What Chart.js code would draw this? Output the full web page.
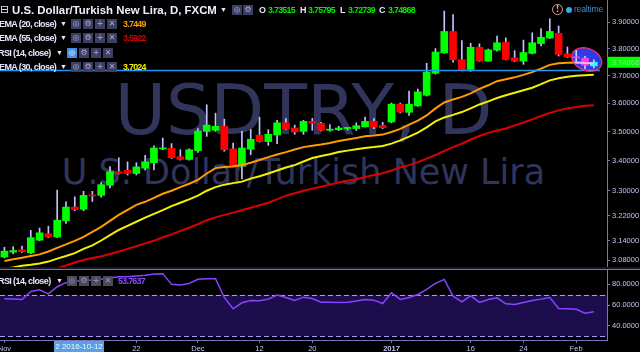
<!DOCTYPE html>
<html>
<head>
<meta charset="utf-8">
<script src="https://cdn.jsdelivr.net/npm/chart.js@4.4.1/dist/chart.umd.min.js"></script>
<style>
  html, body { margin: 0; padding: 0; background: #000; }
  #wrap { position: relative; width: 640px; height: 352px; overflow: hidden; background: #000; }
  canvas { position: absolute; left: 0; z-index: 1; }
  #main { top: 0; }
  #rsi { top: 270px; }
  .wm { position: absolute; left: 0; width: 607px; text-align: center; color: #31355b; font-family: 'DejaVu Sans'; white-space: nowrap; line-height: 1; z-index: 0; }
  .ov { position: absolute; z-index: 2; white-space: nowrap; font-family: 'Liberation Sans'; }
  .t { font-weight: bold; font-size: 9px; line-height: 12px; letter-spacing: -0.6px; color: #e6e6ff; }
  .v { font-weight: bold; font-size: 8.8px; line-height: 12px; letter-spacing: -0.7px; color: #00ee00; }
  .arr { font-size: 7px; line-height: 12px; color: #e6e6ff; }
  .ic { width: 10px; height: 10px; background: #3c3f62; color: #a9a9dc; font: 8px 'DejaVu Sans'; line-height: 10px; text-align: center; }
  .sep { position: absolute; z-index: 2; }
</style>
</head>
<body>
<div id="wrap">
  <div class="wm" style="top:75px;font-size:70px;">USDTRY, D</div>
  <div class="wm" style="top:155px;font-size:35px;">U.S. Dollar/Turkish New Lira</div>

  <canvas id="main" width="640" height="270"></canvas>
  <canvas id="rsi" width="640" height="82"></canvas>

  <div class="sep" style="left:0;top:267px;width:640px;height:2px;background:#16162a;"></div>
  <div class="sep" style="left:0;top:269px;width:640px;height:1px;background:#7474bc;"></div>

  <!-- header row 1 -->
  <div class="ov" style="left:0;top:4px;font:11px 'DejaVu Sans';line-height:11px;color:#e6e6ff;">⊟</div>
  <div class="ov" style="left:12px;top:3px;font-weight:bold;font-size:11.4px;line-height:14px;color:#f0f0ff;">U.S. Dollar/Turkish New Lira, D, FXCM</div>
  <div class="ov arr" style="left:220px;top:4px;">▼</div>
  <div class="ov ic" style="left:232px;top:5px;">◎</div>
  <div class="ov ic" style="left:243px;top:5px;">⚙</div>
  <div class="ov t" style="left:259px;top:4px;">O</div>
  <div class="ov v" style="left:268px;top:4px;">3.73515</div>
  <div class="ov t" style="left:300px;top:4px;">H</div>
  <div class="ov v" style="left:308px;top:4px;">3.75795</div>
  <div class="ov t" style="left:340px;top:4px;">L</div>
  <div class="ov v" style="left:348px;top:4px;">3.72739</div>
  <div class="ov t" style="left:379px;top:4px;">C</div>
  <div class="ov v" style="left:388px;top:4px;">3.74868</div>

  <div class="ov" style="left:552px;top:4px;width:9px;height:9px;border:1.2px solid #e29a9a;border-radius:50%;color:#e29a9a;font:bold 8px 'DejaVu Sans';line-height:9px;text-align:center;">!</div>
  <div class="ov" style="left:566px;top:6.5px;width:6px;height:6px;border-radius:50%;background:#3aa6ee;"></div>
  <div class="ov" style="left:574px;top:3px;font-size:8.6px;line-height:12px;letter-spacing:-0.2px;color:#3b8ec9;">realtime</div>

  <!-- indicator rows -->
  <div class="ov t" style="left:-1px;top:18px;">EMA (20, close)</div>
  <div class="ov arr" style="left:60px;top:18px;">▼</div>
  <div class="ov ic" style="left:71px;top:19px;">◎</div>
  <div class="ov ic" style="left:83px;top:19px;">⚙</div>
  <div class="ov ic" style="left:95px;top:19px;">+</div>
  <div class="ov ic" style="left:107px;top:19px;">✕</div>
  <div class="ov v" style="left:123px;top:18px;color:#ff9c00;">3.7449</div>

  <div class="ov t" style="left:-1px;top:32px;">EMA (55, close)</div>
  <div class="ov arr" style="left:60px;top:32px;">▼</div>
  <div class="ov ic" style="left:71px;top:33px;">◎</div>
  <div class="ov ic" style="left:83px;top:33px;">⚙</div>
  <div class="ov ic" style="left:95px;top:33px;">+</div>
  <div class="ov ic" style="left:107px;top:33px;">✕</div>
  <div class="ov v" style="left:123px;top:32px;color:#d20000;">3.5922</div>

  <div class="ov t" style="left:-2px;top:47px;">RSI (14, close)</div>
  <div class="ov arr" style="left:56px;top:47px;">▼</div>
  <div class="ov ic" style="left:67px;top:48px;background:#3f8fe2;color:#e8f2ff;">◎</div>
  <div class="ov ic" style="left:79px;top:48px;">⚙</div>
  <div class="ov ic" style="left:91px;top:48px;">+</div>
  <div class="ov ic" style="left:103px;top:48px;">✕</div>

  <div class="ov t" style="left:-1px;top:61px;">EMA (30, close)</div>
  <div class="ov arr" style="left:60px;top:61px;">▼</div>
  <div class="ov ic" style="left:71px;top:62px;">◎</div>
  <div class="ov ic" style="left:83px;top:62px;">⚙</div>
  <div class="ov ic" style="left:95px;top:62px;">+</div>
  <div class="ov ic" style="left:107px;top:62px;">✕</div>
  <div class="ov v" style="left:123px;top:61px;color:#f2f200;">3.7024</div>

  <!-- RSI pane header -->
  <div class="ov t" style="left:-2px;top:275px;">RSI (14, close)</div>
  <div class="ov arr" style="left:56px;top:275px;">▼</div>
  <div class="ov ic" style="left:67px;top:276px;background:#4a4a5c;color:#9a9ab0;">◎</div>
  <div class="ov ic" style="left:79px;top:276px;background:#4a4a5c;color:#9a9ab0;">⚙</div>
  <div class="ov ic" style="left:91px;top:276px;background:#4a4a5c;color:#9a9ab0;">+</div>
  <div class="ov ic" style="left:103px;top:276px;background:#4a4a5c;color:#9a9ab0;">✕</div>
  <div class="ov v" style="left:118px;top:275px;color:#8a4dff;">53.7637</div>

  <div class="ov" style="left:54px;top:341px;width:50px;height:11px;background:#5aa0e2;color:#eef5ff;font-size:8px;line-height:11px;text-align:center;">2 2016-10-12</div>
</div>

<script>
// USDTRY daily, FXCM
const dates = [
  '2016-11-01', '2016-11-02', '2016-11-03', '2016-11-04',
  '2016-11-07', '2016-11-08', '2016-11-09', '2016-11-10', '2016-11-11',
  '2016-11-14', '2016-11-15', '2016-11-16', '2016-11-17', '2016-11-18',
  '2016-11-21', '2016-11-22', '2016-11-23', '2016-11-24', '2016-11-25',
  '2016-11-28', '2016-11-29', '2016-11-30',
  '2016-12-01', '2016-12-02',
  '2016-12-05', '2016-12-06', '2016-12-07', '2016-12-08', '2016-12-09',
  '2016-12-12', '2016-12-13', '2016-12-14', '2016-12-15', '2016-12-16',
  '2016-12-19', '2016-12-20', '2016-12-21', '2016-12-22', '2016-12-23',
  '2016-12-26', '2016-12-27', '2016-12-28', '2016-12-29', '2016-12-30',
  '2017-01-03', '2017-01-04', '2017-01-05', '2017-01-06',
  '2017-01-09', '2017-01-10', '2017-01-11', '2017-01-12', '2017-01-13',
  '2017-01-16', '2017-01-17', '2017-01-18', '2017-01-19', '2017-01-20',
  '2017-01-23', '2017-01-24', '2017-01-25', '2017-01-26', '2017-01-27',
  '2017-01-30', '2017-01-31',
  '2017-02-01', '2017-02-02', '2017-02-03'
];

const opens = [
  3.090, 3.105, 3.112, 3.103, 3.142, 3.162, 3.152, 3.203, 3.247, 3.240,
  3.286, 3.285, 3.318, 3.363, 3.368, 3.357, 3.375, 3.393, 3.440, 3.442,
  3.413, 3.404, 3.434, 3.500, 3.504, 3.518, 3.440, 3.382, 3.439, 3.487,
  3.465, 3.488, 3.530, 3.512, 3.500, 3.535, 3.528, 3.504, 3.506, 3.510,
  3.510, 3.516, 3.535, 3.521, 3.533, 3.596, 3.567, 3.590, 3.628, 3.708,
  3.784, 3.865, 3.758, 3.722, 3.805, 3.753, 3.794, 3.823, 3.765, 3.753,
  3.782, 3.819, 3.840, 3.858, 3.780, 3.768, 3.764, 3.73515
];
const highs = [
  3.120, 3.122, 3.124, 3.173, 3.180, 3.186, 3.302, 3.264, 3.280, 3.298,
  3.298, 3.327, 3.380, 3.410, 3.396, 3.393, 3.418, 3.450, 3.477, 3.458,
  3.437, 3.440, 3.510, 3.594, 3.564, 3.543, 3.460, 3.500, 3.507, 3.550,
  3.506, 3.539, 3.545, 3.522, 3.539, 3.546, 3.532, 3.524, 3.518, 3.514,
  3.530, 3.550, 3.545, 3.532, 3.600, 3.600, 3.643, 3.650, 3.745, 3.800,
  3.944, 3.930, 3.830, 3.820, 3.818, 3.798, 3.847, 3.841, 3.792, 3.832,
  3.860, 3.876, 3.914, 3.886, 3.806, 3.793, 3.771, 3.75795
];
const lows = [
  3.087, 3.100, 3.103, 3.100, 3.140, 3.150, 3.150, 3.195, 3.235, 3.235,
  3.265, 3.279, 3.309, 3.355, 3.352, 3.352, 3.369, 3.369, 3.437, 3.407,
  3.402, 3.402, 3.428, 3.483, 3.500, 3.432, 3.380, 3.339, 3.420, 3.463,
  3.452, 3.458, 3.507, 3.490, 3.490, 3.504, 3.502, 3.501, 3.503, 3.505,
  3.503, 3.516, 3.510, 3.510, 3.530, 3.565, 3.556, 3.588, 3.625, 3.705,
  3.782, 3.749, 3.717, 3.715, 3.752, 3.752, 3.790, 3.757, 3.751, 3.741,
  3.780, 3.810, 3.838, 3.772, 3.766, 3.752, 3.725, 3.72739
];
const closes = [
  3.108, 3.110, 3.106, 3.150, 3.165, 3.152, 3.205, 3.247, 3.239, 3.285,
  3.283, 3.320, 3.363, 3.357, 3.357, 3.379, 3.396, 3.443, 3.443, 3.410,
  3.404, 3.437, 3.501, 3.522, 3.518, 3.437, 3.384, 3.443, 3.473, 3.465,
  3.490, 3.530, 3.509, 3.498, 3.535, 3.528, 3.504, 3.508, 3.512, 3.514,
  3.520, 3.535, 3.516, 3.513, 3.596, 3.568, 3.596, 3.640, 3.712, 3.787,
  3.865, 3.758, 3.719, 3.805, 3.753, 3.795, 3.822, 3.759, 3.753, 3.785,
  3.822, 3.843, 3.865, 3.778, 3.768, 3.765, 3.738, 3.74868
];

const ema20 = [
  3.078, 3.083, 3.088, 3.093, 3.098, 3.107, 3.118, 3.129, 3.140, 3.152,
  3.168, 3.184, 3.203, 3.222, 3.238, 3.254, 3.264, 3.277, 3.290, 3.300,
  3.312, 3.323, 3.336, 3.357, 3.375, 3.379, 3.380, 3.385, 3.393, 3.402,
  3.412, 3.421, 3.429, 3.438, 3.446, 3.451, 3.455, 3.460, 3.467, 3.472,
  3.477, 3.483, 3.486, 3.489, 3.498, 3.509, 3.524, 3.538, 3.556, 3.581,
  3.602, 3.613, 3.622, 3.635, 3.651, 3.664, 3.679, 3.686, 3.693, 3.702,
  3.712, 3.725, 3.739, 3.745, 3.747, 3.748, 3.746, 3.7449
];
const ema30 = [
  3.055, 3.058, 3.063, 3.066, 3.070, 3.076, 3.085, 3.093, 3.102, 3.115,
  3.126, 3.141, 3.158, 3.174, 3.187, 3.200, 3.213, 3.225, 3.237, 3.250,
  3.261, 3.272, 3.284, 3.300, 3.312, 3.320, 3.325, 3.330, 3.340, 3.348,
  3.357, 3.367, 3.377, 3.385, 3.397, 3.409, 3.416, 3.422, 3.429, 3.434,
  3.439, 3.443, 3.446, 3.450, 3.458, 3.469, 3.482, 3.496, 3.514, 3.535,
  3.549, 3.558, 3.568, 3.581, 3.595, 3.606, 3.618, 3.628, 3.637, 3.646,
  3.655, 3.668, 3.682, 3.690, 3.695, 3.699, 3.701, 3.7024
];
const ema55 = [
  3.017, 3.023, 3.029, 3.035, 3.041, 3.047, 3.056, 3.064, 3.073, 3.081,
  3.087, 3.092, 3.099, 3.107, 3.115, 3.123, 3.132, 3.140, 3.151, 3.160,
  3.171, 3.181, 3.192, 3.205, 3.214, 3.222, 3.229, 3.237, 3.245, 3.253,
  3.261, 3.272, 3.284, 3.292, 3.300, 3.307, 3.313, 3.320, 3.327, 3.333,
  3.338, 3.345, 3.352, 3.358, 3.367, 3.377, 3.385, 3.395, 3.407, 3.419,
  3.433, 3.446, 3.458, 3.472, 3.484, 3.495, 3.503, 3.510, 3.521, 3.531,
  3.542, 3.554, 3.565, 3.574, 3.581, 3.586, 3.590, 3.5922
];
const rsi14 = [
  66.1, 65.8, 65.5, 73.2, 74.8, 70.9, 77.7, 81.6, 82.9, 83.5,
  84.2, 84.8, 86.1, 87.4, 87.4, 88.0, 88.7, 90.0, 90.3, 80.0,
  79.3, 80.9, 84.8, 85.4, 85.4, 67.4, 56.5, 62.3, 64.5, 64.2,
  65.8, 69.7, 67.4, 64.5, 67.7, 66.4, 62.9, 62.9, 62.6, 62.9,
  63.9, 65.5, 64.8, 61.6, 71.9, 65.5, 67.4, 70.3, 75.1, 80.9,
  84.8, 68.7, 63.2, 69.0, 62.6, 65.5, 67.1, 61.3, 60.6, 62.6,
  64.5, 65.8, 67.4, 56.8, 56.5, 56.1, 52.3, 53.7637
];

const priceTicks = [3.08, 3.14, 3.22, 3.30, 3.40, 3.50, 3.60, 3.70, 3.80, 3.90];
const rsiTicks = [40, 60, 80];
const rsiBands = [30, 70];
const supportLevel = 3.7183;
const tickDates = ['2016-11-01', '2016-11-22', '2016-12-01', '2016-12-12', '2016-12-20',
  '2017-01-03', '2017-01-16', '2017-01-24', '2017-02-01'];
const tickNames = ['Nov', '22', 'Dec', '12', '20', '2017', '16', '24', 'Feb'];

// one empty slot on the right, like the chart's right margin
const labels = [...dates, ''];

const AXIS = '#7676bd';
const TICK_TXT = '#c4c4f2';
Chart.defaults.font.family = "'Liberation Sans', Arial, sans-serif";
Chart.defaults.animation = false;

const fixY = (scale) => {
  scale.width = 33;
  scale.paddingTop = 0;
  scale.paddingBottom = 0;
};

// ellipse highlight round the last bars, plus the level line and last price tag
const overlayPlugin = {
  id: 'overlay',
  afterDatasetsDraw(chart) {
    const { ctx, chartArea, scales: { x, y } } = chart;
    const ly = y.getPixelForValue(supportLevel);
    ctx.save();
    ctx.strokeStyle = '#2196f3';
    ctx.lineWidth = 1.5;
    ctx.beginPath();
    ctx.moveTo(chartArea.left, ly);
    ctx.lineTo(chartArea.right - 7, ly);
    ctx.stroke();

    const cx = x.getPixelForValue(66.2);
    const cy = y.getPixelForValue(3.759);
    ctx.beginPath();
    ctx.ellipse(cx, cy, 15.5, 11, 0.38, 0, Math.PI * 2);
    ctx.globalCompositeOperation = 'screen';
    ctx.fillStyle = '#2d3ce6';
    ctx.fill();
    ctx.globalCompositeOperation = 'source-over';
    ctx.strokeStyle = '#f0306c';
    ctx.lineWidth = 1.3;
    ctx.stroke();
    ctx.restore();
  },
  afterDraw(chart) {
    const { ctx, chartArea, scales: { y } } = chart;
    const last = closes[closes.length - 1];
    const py = y.getPixelForValue(last);
    ctx.save();
    ctx.fillStyle = '#00ff00';
    ctx.fillRect(chartArea.right + 1, py - 5.5, 33, 11);
    ctx.fillStyle = '#8fdc8f';
    ctx.font = "7.5px 'Liberation Sans'";
    ctx.textBaseline = 'middle';
    ctx.fillText(last.toFixed(5), chartArea.right + 5, py + 0.5);
    ctx.restore();
  }
};

new Chart(document.getElementById('main'), {
  type: 'bar',
  data: {
    labels,
    datasets: [
      { type: 'line', label: 'EMA (20, close)', data: ema20, borderColor: '#ff9c00', borderWidth: 2, pointRadius: 0, order: 0 },
      { type: 'line', label: 'EMA (30, close)', data: ema30, borderColor: '#f2f200', borderWidth: 2, pointRadius: 0, order: 0 },
      { type: 'line', label: 'EMA (55, close)', data: ema55, borderColor: '#dd0000', borderWidth: 2, pointRadius: 0, order: 0 },
      {
        label: 'body', data: opens.map((o, i) => [o, closes[i]]),
        backgroundColor: opens.map((o, i) => (closes[i] >= o ? '#00ff00' : '#ff0000')),
        barThickness: 7, minBarLength: 1, grouped: false, order: 1
      },
      {
        label: 'wick', data: lows.map((l, i) => [l, highs[i]]),
        backgroundColor: '#c2c2ff', barThickness: 1, grouped: false, order: 2
      }
    ]
  },
  options: {
    responsive: false,
    layout: { padding: 0, autoPadding: false },
    plugins: { legend: { display: false }, tooltip: { enabled: false } },
    scales: {
      x: { type: 'category', display: false, offset: true, grid: { offset: false } },
      y: {
        type: 'logarithmic', position: 'right', min: 3.0504, max: 3.9876, bounds: 'data',
        afterBuildTicks: (s) => { s.ticks = priceTicks.map(v => ({ value: v })); },
        afterFit: fixY,
        ticks: { color: TICK_TXT, font: { size: 7.5 }, padding: 2, callback: v => Number(v).toFixed(5) },
        grid: { drawOnChartArea: false, color: AXIS, tickLength: 3 },
        border: { color: AXIS }
      }
    }
  },
  plugins: [overlayPlugin]
});

const bandPlugin = {
  id: 'band',
  beforeDatasetsDraw(chart) {
    const { ctx, chartArea, scales: { y } } = chart;
    const top = y.getPixelForValue(rsiBands[1]);
    const bot = y.getPixelForValue(rsiBands[0]);
    ctx.save();
    ctx.fillStyle = '#1c0e4c';
    ctx.fillRect(chartArea.left, top, chartArea.right - chartArea.left, bot - top);
    ctx.strokeStyle = '#a49af0';
    ctx.lineWidth = 1;
    ctx.setLineDash([5, 3]);
    [top, bot].forEach(py => {
      ctx.beginPath();
      ctx.moveTo(chartArea.left, Math.round(py) + 0.5);
      ctx.lineTo(chartArea.right, Math.round(py) + 0.5);
      ctx.stroke();
    });
    ctx.restore();
  }
};

new Chart(document.getElementById('rsi'), {
  type: 'line',
  data: {
    labels,
    datasets: [
      { label: 'RSI (14, close)', data: rsi14, borderColor: '#8b42ff', borderWidth: 1.5, pointRadius: 0 }
    ]
  },
  options: {
    responsive: false,
    layout: { padding: 0, autoPadding: false },
    plugins: { legend: { display: false }, tooltip: { enabled: false } },
    scales: {
      x: {
        type: 'category', offset: true,
        afterFit: (s) => { s.height = 12; s.paddingLeft = 0; s.paddingRight = 0; },
        ticks: {
          autoSkip: false, maxRotation: 0, padding: 1, color: TICK_TXT,
          font: (c) => ({ size: 7.5, weight: c.tick && c.tick.label === '2017' ? 'bold' : 'normal' }),
          callback(value) {
            const k = tickDates.indexOf(this.getLabelForValue(value));
            return k >= 0 ? tickNames[k] : '';
          }
        },
        grid: {
          offset: false, drawOnChartArea: false, tickLength: 3,
          color: (c) => (c.tick && tickDates.includes(labels[c.index]) ? AXIS : 'rgba(0,0,0,0)')
        },
        border: { color: AXIS }
      },
      y: {
        position: 'right', min: 26.5, max: 93.8,
        afterBuildTicks: (s) => { s.ticks = rsiTicks.map(v => ({ value: v })); },
        afterFit: fixY,
        ticks: { color: TICK_TXT, font: { size: 7.5 }, padding: 2, callback: v => Number(v).toFixed(4) },
        grid: { drawOnChartArea: false, color: AXIS, tickLength: 3 },
        border: { color: AXIS }
      }
    }
  },
  plugins: [bandPlugin]
});
</script>
</body>
</html>
